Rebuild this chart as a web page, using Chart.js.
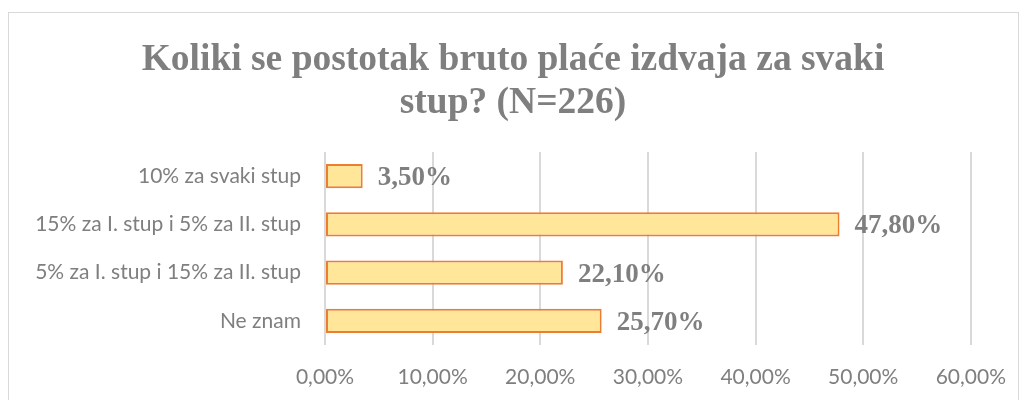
<!DOCTYPE html>
<html>
<head>
<meta charset="utf-8">
<script src="https://cdn.jsdelivr.net/npm/chart.js@4/dist/chart.umd.min.js"></script>
<style>
	html, body { margin: 0; padding: 0; background: #ffffff; }
	#wrap { position: relative; width: 1026px; height: 400px; overflow: hidden; }
	#frame { position: absolute; left: 8px; top: 12px; width: 1011px; height: 400px; border: 1px solid #d9d9d9; box-sizing: border-box; }
	#chart { position: absolute; left: 0; top: 0; }
</style>
</head>
<body>
<div id="wrap">
	<div id="frame"></div>
	<canvas id="chart" width="1026" height="400"></canvas>
</div>
<script>
"use strict";

var titleLines = ["Koliki se postotak bruto plaće izdvaja za svaki", "stup? (N=226)"];
var categories = ["10% za svaki stup", "15% za I. stup i 5% za II. stup", "5% za I. stup i 15% za II. stup", "Ne znam"];
var percentages = [3.5, 47.8, 22.1, 25.7];
var axisTicks = [0, 10, 20, 30, 40, 50, 60];

function formatPercent(value) {
	return Number(value).toFixed(2).replace(".", ",") + "%";
}

// title centred on the whole frame, not on the plot box
var frameTitle = {
	id: "frameTitle",
	afterDraw(chart) {
		var ctx = chart.ctx;
		ctx.save();
		ctx.font = "bold 37.5px 'Liberation Serif'";
		ctx.fillStyle = "#7f7f7f";
		ctx.textAlign = "center";
		ctx.textBaseline = "middle";
		titleLines.forEach((line, i) => {
			ctx.fillText(line, 513, 60 + i * 43);
		});
		ctx.restore();
	}
};

// draws the bold value next to the end of each bar
var valueLabels = {
	id: "valueLabels",
	afterDatasetsDraw(chart) {
		var ctx = chart.ctx;
		var meta = chart.getDatasetMeta(0);
		ctx.save();
		ctx.font = "bold 27px 'Liberation Serif'";
		ctx.fillStyle = "#7f7f7f";
		ctx.textAlign = "left";
		ctx.textBaseline = "middle";
		meta.data.forEach((bar, i) => {
			ctx.fillText(formatPercent(percentages[i]), bar.x + 15, bar.y + 2);
		});
		ctx.restore();
	}
};

var ctx = document.getElementById("chart").getContext("2d");

new Chart(ctx, {
	type: "bar",
	data: {
		labels: categories,
		datasets: [{
			data: percentages,
			backgroundColor: "#ffe699",
			borderColor: "#ed7d31",
			borderWidth: 2,
			borderSkipped: false,
			categoryPercentage: 1,
			barPercentage: 0.5
		}]
	},
	options: {
		indexAxis: "y",
		responsive: false,
		animation: false,
		layout: {
			padding: { left: 9, right: 53, top: 152, bottom: 0 }
		},
		plugins: {
			legend: { display: false },
			tooltip: { enabled: false },
			title: { display: false }
		},
		scales: {
			x: {
				min: 0,
				max: 60,
				afterBuildTicks(scale) {
					scale.ticks = axisTicks.map((v) => ({ value: v }));
				},
				afterFit(scale) {
					scale.height = 55;
				},
				grid: { color: "#d9d9d9", lineWidth: 2, drawTicks: false },
				border: { display: false },
				ticks: {
					padding: 20,
					color: "#7f7f7f",
					font: { family: "Lato", size: 21 },
					callback: (value) => formatPercent(value)
				}
			},
			y: {
				afterFit(scale) {
					scale.width = 316;
				},
				grid: { display: false },
				border: { display: false },
				ticks: {
					padding: 16,
					color: "#7f7f7f",
					font: { family: "Lato", size: 21 }
				}
			}
		}
	},
	plugins: [valueLabels, frameTitle]
});
</script>
</body>
</html>
